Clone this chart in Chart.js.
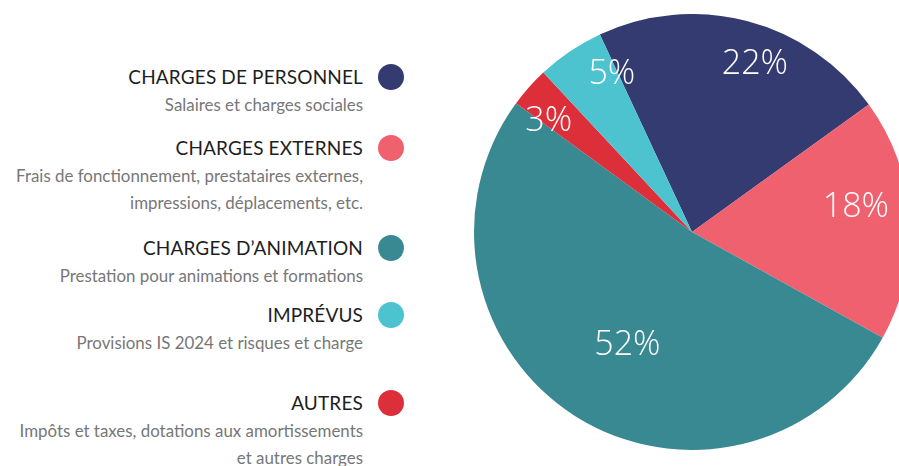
<!DOCTYPE html>
<html lang="fr">
<head>
<meta charset="utf-8">
<script src="https://cdn.jsdelivr.net/npm/chart.js@4.4.0/dist/chart.umd.min.js"></script>
<style>
    html, body { margin: 0; padding: 0; background: #fff; }
    body { width: 899px; height: 466px; overflow: hidden; position: relative; font-family: Lato, "Open Sans", sans-serif; }
    .legend-item { position: absolute; left: 0; width: 363px; text-align: right; }
    .legend-title { font-size: 19px; line-height: 20px; color: #1e1e1e; letter-spacing: 0.15px; }
    .legend-sub { font-size: 16.9px; line-height: 27px; color: #777; margin-top: 4px; }
    .legend-dot { position: absolute; left: 378px; top: -3px; width: 26px; height: 26px; border-radius: 50%; }
    .chart-box { position: absolute; left: 474px; top: 14px; width: 436px; height: 436px; }
</style>
</head>
<body>
<div id="legend"></div>
<div class="chart-box"><canvas id="pieChart"></canvas></div>
<script>
    // données du graphique
    const categories = ['CHARGES DE PERSONNEL', 'CHARGES EXTERNES', 'CHARGES D\u2019ANIMATION', 'IMPR\u00c9VUS', 'AUTRES'];
    const descriptions = [
        ['Salaires et charges sociales'],
        ['Frais de fonctionnement, prestataires externes,', 'impressions, d\u00e9placements, etc.'],
        ['Prestation pour animations et formations'],
        ['Provisions IS 2024 et risques et charge'],
        ['Imp\u00f4ts et taxes, dotations aux amortissements', 'et autres charges']
    ];
    const percents = [22, 18, 52, 5, 3];
    const colors = ['#343b70', '#f0616f', '#398993', '#4cc3cf', '#dc2f3a'];

    // ordre des parts dans le camembert (sens horaire)
    const pieOrder = [0, 1, 2, 4, 3];

    // placement de la légende (centre du titre)
    const legendTops = [77, 148, 248, 315, 403];

    const legend = document.getElementById('legend');
    categories.forEach((cat, i) => {
        const item = document.createElement('div');
        item.className = 'legend-item';
        item.style.top = (legendTops[i] - 10) + 'px';
        item.innerHTML = `
            <div class="legend-title">${cat}</div>
            <div class="legend-sub">${descriptions[i].join('<br>')}</div>
            <span class="legend-dot" style="background:${colors[i]}"></span>
        `;
        legend.appendChild(item);
    });

    // étiquettes dans les parts : [décalage d'angle en degrés, rayon relatif]
    const labelPlace = [[6, 0.82], [-5, 0.76], [-3, 0.6], [-4, 0.83], [7, 0.81]];

    const sliceLabels = {
        id: 'sliceLabels',
        afterDatasetsDraw(chart) {
            const ctx = chart.ctx;
            const meta = chart.getDatasetMeta(0);
            ctx.save();
            ctx.fillStyle = '#ffffff';
            ctx.font = '300 34px "Open Sans", sans-serif';
            ctx.textAlign = 'center';
            ctx.textBaseline = 'middle';
            meta.data.forEach((arc, j) => {
                const p = arc.getProps(['x', 'y', 'startAngle', 'endAngle', 'outerRadius'], true);
                const place = labelPlace[j];
                const a = (p.startAngle + p.endAngle) / 2 + place[0] * Math.PI / 180;
                const r = p.outerRadius * place[1];
                ctx.fillText(chart.data.datasets[0].data[j] + '%', p.x + Math.cos(a) * r, p.y + Math.sin(a) * r);
            });
            ctx.restore();
        }
    };

    new Chart(document.getElementById('pieChart'), {
        type: 'pie',
        data: {
            labels: pieOrder.map(i => categories[i]),
            datasets: [{
                data: pieOrder.map(i => percents[i]),
                backgroundColor: pieOrder.map(i => colors[i]),
                borderWidth: 0
            }]
        },
        options: {
            responsive: true,
            maintainAspectRatio: false,
            animation: false,
            rotation: -25,
            layout: { padding: 0 },
            plugins: { legend: { display: false }, tooltip: { enabled: false } }
        },
        plugins: [sliceLabels]
    });
</script>
</body>
</html>
